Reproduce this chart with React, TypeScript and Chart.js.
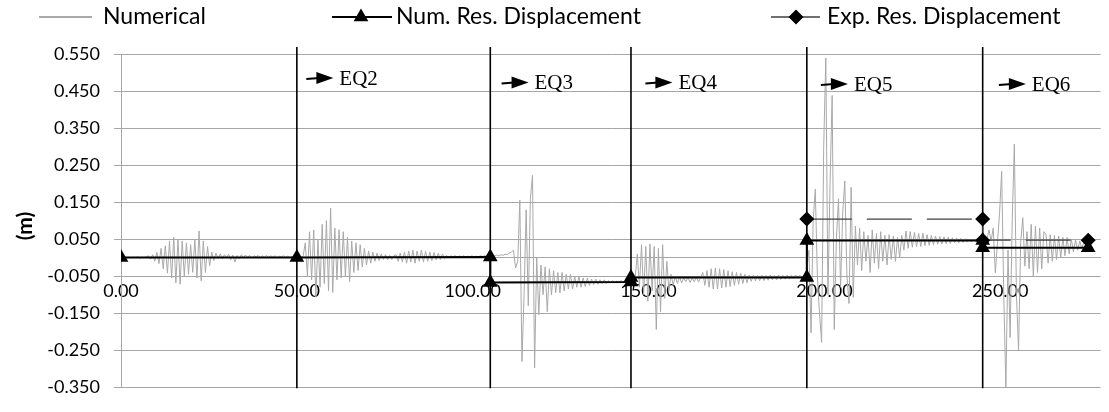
import React, { useEffect, useRef } from 'react';
import { Chart, registerables } from 'chart.js';

Chart.register(...registerables);

// ---- data -------------------------------------------------------------
const seriesNames = ['Numerical', 'Num. Res. Displacement', 'Exp. Res. Displacement'];
const yAxisTitle = '(m)';

// numerical displacement record, one array per earthquake, in millimetres,
// sampled every sampleStep seconds from the start time of that earthquake
const sampleStep = 0.6;
const eqStarts = [0, 50, 105, 145, 195, 245];
const eq1Mm = [0, 0, 1, 0, 1, -1, 1, 0, 2, -1, 1, 0, 2,
  5, -4, 8, -10, 14, -16,
  25, -30, 32, -42, 45, -55, 55, -68, 50, -72, 45, -50, 40, -45, 35, -40, 50, -55, 72, -63, 45, -40, 30, -22, 15, -8, 12, -2,
  10, -3, 8, 0, 9, -6, 7, -12, 6, -4, 8, 0, 7, 1, 6, -1, 5, 2, 6, 0, 5, 1, 6, 0, 5, 1, 5, 0, 4, 2, 5, 1, 4, 0, 3, 1, 2];
const eq2Mm = [0, 2, -3, 5,
  40, -50, 70, -60, 75, -107, 50, -80,
  90, -70, 100, -90, 134, -94, 80, -60, 75, -55, 70, -50, 55, -65, 45, -40, 40, -35, 35, -25, 25, -20, 18, -15, 15, -10, 12,
  -8, 10, -5, 8, -6, 6, -5, 5,
  8, -10, 12, -12, 15, -15, 18, -12, 20, -15, 18, -10, 20, -12, 17, -10, 15, -8, 14, -6, 12, -5, 10, -3,
  6, 0, 5, 1, 6, 0, 5, 2, 5, 1, 4, 2, 5, 1, 4, 2, 5, 3, 5, 4, 5];
const eq3Mm = [5, 6, 4, 7, 5, 8, 6, 9, 8, 12,
  15, 20, -28, -10,
  155, -281, -100, 129, -130, 160, 222, -298, 0, -154, -20, -100, -25, -146, -30, -100,
  -35, -95, -40, -95, -40, -90, -45, -85, -45, -85, -50, -80, -50, -80, -55, -78, -55, -75, -58, -73,
  -58, -72, -60, -70, -60, -70, -62, -68, -62, -68, -63, -67, -62, -67, -63, -66, -62];
const eq4Mm = [-60, -58, -55,
  10, -80, 35, -100, 30, -118, 37, -90, 30, -194, 25, -146, 35, -110, -10, -90,
  -45, -75, -50, -70, -52, -68, -55, -65, -53, -67, -55, -65, -52, -66, -54,
  -40, -75, -35, -80, -30, -85, -28, -85, -30, -82, -32, -80, -35, -78, -38, -75, -40, -72, -42, -70, -45, -68, -47,
  -64, -47, -63, -48, -62, -47, -62, -48, -61, -47, -60, -48, -60, -47, -59, -48, -58, -47, -57, -48, -56, -47, -55, -48, -54, -49, -50];
const eq5Mm = [-50, 20, -203, 100, 185, -50, -150, -229, 300, 539, -100, 200, 438, -194, 50, 159, -80, 120, 207, -50, -124, 190, -107, 85,
  -20, 80, -35, 70, -10, 60, -40, 75, -15, 65, -30, 70, -10, 60, -20, 62, -5, 58, -10, 55, 0, 60,
  20, 72, 25, 70, 28, 68, 30, 65, 30, 66, 32, 62, 33, 60, 35, 58, 36, 57, 37, 56, 38, 55, 38, 54, 40, 53, 40,
  52, 41, 51, 42, 50, 43, 49, 43, 48, 45, 46];
const eq6Mm = [45, 60, 50, 75, 45, 80, -41, 40, 120, 233, -100, -355, 20, -216, 100, 307, -100, -251, 40, 108,
  -23, 70, -30, 90, -50, 85, -40, 80, -30, 70,
  63, -15, 62, -10, 60, -5, 58, 0, 55, 5, 55, 10, 50, 15, 48, 20, 45, 25, 42, 30, 40];
const numericalMm = [eq1Mm, eq2Mm, eq3Mm, eq4Mm, eq5Mm, eq6Mm];

// residual displacements (m)
const numResTime = [0, 50, 105, 105, 145, 145, 195, 195, 245, 245, 275];
const numResDisp = [0, 0, 0.002, -0.067, -0.066, -0.054, -0.054, 0.046, 0.046, 0.027, 0.027];
const expResTime = [195, 245, 245, 275];
const expResDisp = [0.104, 0.104, 0.047, 0.047];

// earthquake separators and labels
const eqBoundaries = [50, 105, 145, 195, 245];
const eqLabelNames = ['EQ2', 'EQ3', 'EQ4', 'EQ5', 'EQ6'];
const eqLabelTime = [52.7, 108.2, 149.1, 199, 249.6];
const eqLabelDisp = [0.485, 0.473, 0.473, 0.469, 0.469];

const xTickValues = [0, 50, 100, 150, 200, 250];
const yTickValues = [-0.35, -0.25, -0.15, -0.05, 0.05, 0.15, 0.25, 0.35, 0.45, 0.55];

// ---- styling ----------------------------------------------------------
const GRID = '#a6a6a6';
const TRACE = '#a9a9a9';
const FONT = 'Lato';

const numericalPoints: { x: number; y: number }[] = [];
numericalMm.forEach((arr, k) => {
  arr.forEach((mm, i) => numericalPoints.push({ x: eqStarts[k] + i * sampleStep, y: mm / 1000 }));
});
const numResPoints = numResTime.map((t, i) => ({ x: t, y: numResDisp[i] }));
const expResPoints = expResTime.map((t, i) => ({ x: t, y: expResDisp[i] }));

function triangle(ctx: CanvasRenderingContext2D, x: number, y: number, r: number) {
  ctx.beginPath();
  ctx.moveTo(x, y - r);
  ctx.lineTo(x + 0.866 * r, y + 0.5 * r);
  ctx.lineTo(x - 0.866 * r, y + 0.5 * r);
  ctx.closePath();
  ctx.fill();
}
function diamond(ctx: CanvasRenderingContext2D, x: number, y: number, r: number) {
  ctx.beginPath();
  ctx.moveTo(x, y - r);
  ctx.lineTo(x + r, y);
  ctx.lineTo(x, y + r);
  ctx.lineTo(x - r, y);
  ctx.closePath();
  ctx.fill();
}

const overlayPlugin = {
  id: 'overlay',
  beforeDatasetsDraw(chart: any) {
    const { ctx, chartArea, scales } = chart;
    const x = scales.x;
    ctx.save();
    ctx.strokeStyle = '#000';
    ctx.lineWidth = 1.6;
    eqBoundaries.forEach((t) => {
      const px = x.getPixelForValue(t);
      ctx.beginPath();
      ctx.moveTo(px, chartArea.top - 7);
      ctx.lineTo(px, chartArea.bottom + 1);
      ctx.stroke();
    });
    ctx.restore();
  },
  afterDraw(chart: any) {
    const { ctx, scales } = chart;
    const x = scales.x;
    const y = scales.y;
    ctx.save();
    // EQ labels with arrows
    ctx.fillStyle = '#000';
    ctx.strokeStyle = '#000';
    eqLabelNames.forEach((name, i) => {
      const x0 = x.getPixelForValue(eqLabelTime[i]);
      const yc = y.getPixelForValue(eqLabelDisp[i]);
      ctx.lineWidth = 2;
      ctx.beginPath();
      ctx.moveTo(x0, yc + 1);
      ctx.lineTo(x0 + 13, yc);
      ctx.stroke();
      ctx.beginPath();
      ctx.moveTo(x0 + 10, yc - 6);
      ctx.lineTo(x0 + 27, yc);
      ctx.lineTo(x0 + 10, yc + 6);
      ctx.closePath();
      ctx.fill();
      ctx.font = '21px "Liberation Serif"';
      ctx.textAlign = 'left';
      ctx.textBaseline = 'middle';
      ctx.fillText(name, x0 + 33, yc + 1);
    });

    // legend
    const ly = 17;
    ctx.font = `23px ${FONT}`;
    ctx.textBaseline = 'middle';
    ctx.textAlign = 'left';
    // Numerical
    ctx.strokeStyle = TRACE;
    ctx.lineWidth = 2;
    ctx.beginPath(); ctx.moveTo(39, ly); ctx.lineTo(92, ly); ctx.stroke();
    ctx.fillStyle = '#000';
    ctx.fillText(seriesNames[0], 103, ly);
    // Num res
    ctx.strokeStyle = '#000';
    ctx.lineWidth = 2;
    ctx.beginPath(); ctx.moveTo(332, ly); ctx.lineTo(392, ly); ctx.stroke();
    triangle(ctx, 361, ly, 8.5);
    ctx.fillText(seriesNames[1], 396, ly);
    // Exp res
    ctx.strokeStyle = '#404040';
    ctx.lineWidth = 1.5;
    ctx.beginPath(); ctx.moveTo(771, ly); ctx.lineTo(820, ly); ctx.stroke();
    diamond(ctx, 796, ly, 7.5);
    ctx.fillText(seriesNames[2], 827, ly);

    // y axis title
    ctx.translate(25, 226);
    ctx.rotate(-Math.PI / 2);
    ctx.font = `bold 21px ${FONT}`;
    ctx.textAlign = 'center';
    ctx.textBaseline = 'middle';
    ctx.fillText(yAxisTitle, 0, 0);
    ctx.restore();
  },
};

export default function App() {
  const ref = useRef<HTMLCanvasElement>(null);
  useEffect(() => {
    document.body.style.margin = '0';
    const chart = new Chart(ref.current as HTMLCanvasElement, {
      type: 'line',
      data: {
        datasets: [
          {
            label: seriesNames[1],
            data: numResPoints,
            borderColor: '#000',
            backgroundColor: '#000',
            borderWidth: 2,
            pointStyle: 'triangle',
            pointRadius: 8.5,
            pointBorderWidth: 0,
            pointBackgroundColor: '#000',
            order: 1,
          },
          {
            label: seriesNames[2],
            data: expResPoints,
            borderColor: '#404040',
            backgroundColor: '#000',
            borderWidth: 1.2,
            borderDash: [45, 15],
            pointStyle: 'rectRot',
            pointRadius: 7.5,
            pointBorderWidth: 0,
            pointBackgroundColor: '#000',
            order: 2,
          },
          {
            label: seriesNames[0],
            data: numericalPoints,
            borderColor: TRACE,
            borderWidth: 1,
            pointRadius: 0,
            tension: 0,
            order: 3,
          },
        ],
      },
      options: {
        animation: false,
        responsive: false,
        events: [],
        layout: { padding: { top: 54, bottom: 14, left: 0, right: 1 } },
        plugins: { legend: { display: false }, tooltip: { enabled: false } },
        scales: {
          x: {
            type: 'linear',
            min: 0,
            max: 278.5,
            position: { y: 0 } as any,
            afterFit: (s: any) => { s.height = 0; },
            afterBuildTicks: (s: any) => { s.ticks = xTickValues.map((v) => ({ value: v })); },
            grid: { display: false, drawTicks: false },
            border: { display: true, color: GRID, width: 1 },
            ticks: {
              font: { family: FONT, size: 18 },
              color: '#000',
              padding: 23,
              maxRotation: 0,
              autoSkip: false,
              callback: (v: any) => Number(v).toFixed(2),
            },
          },
          y: {
            type: 'linear',
            min: -0.35,
            max: 0.55,
            afterFit: (s: any) => { s.width = 121; },
            afterBuildTicks: (s: any) => { s.ticks = yTickValues.map((v) => ({ value: v })); },
            grid: { color: GRID, tickLength: 7, lineWidth: 1 },
            border: { display: true, color: GRID, width: 1 },
            ticks: {
              font: { family: FONT, size: 18 },
              color: '#000',
              padding: 14,
              callback: (v: any) => Number(v).toFixed(3),
            },
          },
        },
      },
      plugins: [overlayPlugin],
    } as any);
    return () => chart.destroy();
  }, []);
  return (
    <div style={{ width: 1109, height: 412 }}>
      <canvas ref={ref} width={1109} height={412} style={{ display: 'block' }} />
    </div>
  );
}
